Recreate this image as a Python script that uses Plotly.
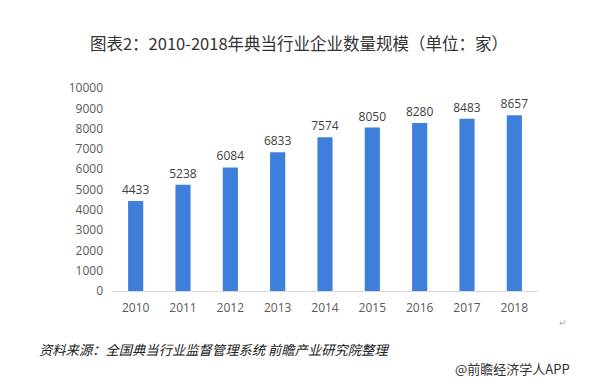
import plotly.graph_objects as go

years = ["2010", "2011", "2012", "2013", "2014", "2015", "2016", "2017", "2018"]
counts = [4433, 5238, 6084, 6833, 7574, 8050, 8280, 8483, 8657]
y_ticks = [0, 1000, 2000, 3000, 4000, 5000, 6000, 7000, 8000, 9000, 10000]

title_text = "图表2：2010-2018年典当行业企业数量规模（单位：家）"
source_text = "资料来源：全国典当行业监督管理系统 前瞻产业研究院整理"
brand_text = "@前瞻经济学人APP"

cjk = "Noto Sans CJK SC"
num_font = "Open Sans, Noto Sans CJK SC"

fig = go.Figure(
    go.Bar(
        x=years,
        y=counts,
        marker=dict(color="#3d7fdb", line=dict(width=0)),
        text=[str(v) for v in counts],
        textposition="outside",
        constraintext="none",
        textfont=dict(family=num_font, size=12, color="#404040"),
        cliponaxis=False,
        width=0.32,
    )
)

fig.update_layout(
    width=598,
    height=387,
    paper_bgcolor="white",
    plot_bgcolor="white",
    margin=dict(l=112, r=60, t=88, b=96),
    showlegend=False,
    title=dict(
        text=title_text,
        x=0.5,
        xanchor="center",
        y=1 - 44 / 387,
        yanchor="middle",
        font=dict(family=cjk, size=16.5, color="#333333"),
    ),
    xaxis=dict(
        showgrid=False,
        showline=True,
        linecolor="#d9d9d9",
        linewidth=1,
        ticks="",
        tickfont=dict(family=num_font, size=12, color="#595959"),
        ticklabelstandoff=6,
    ),
    yaxis=dict(
        range=[0, 10000],
        tickvals=y_ticks,
        ticktext=[str(v) for v in y_ticks],
        showgrid=False,
        zeroline=False,
        showline=False,
        ticks="",
        tickfont=dict(family=num_font, size=12, color="#595959"),
        ticklabelstandoff=8,
    ),
    annotations=[
        dict(
            text="<i>" + source_text + "</i>",
            xref="paper", yref="paper",
            x=(37 - 112) / 426, y=-(349 - 291) / 203,
            xanchor="left", yanchor="middle",
            showarrow=False,
            font=dict(family=cjk, size=13.3, color="#222222"),
        ),
        dict(
            text=brand_text,
            xref="paper", yref="paper",
            x=(572 - 112) / 426, y=-(368 - 291) / 203,
            xanchor="right", yanchor="middle",
            showarrow=False,
            font=dict(family=cjk, size=13, color="#333333"),
        ),
        dict(
            text="↵",
            xref="paper", yref="paper",
            x=(563 - 112) / 426, y=-(322 - 291) / 203,
            xanchor="center", yanchor="middle",
            showarrow=False,
            font=dict(family=cjk, size=9, color="#aaaaaa"),
        ),
    ],
)

fig.write_html(
    "out.html",
    config={"displayModeBar": False},
    post_script="document.body.style.margin='0';",
)
